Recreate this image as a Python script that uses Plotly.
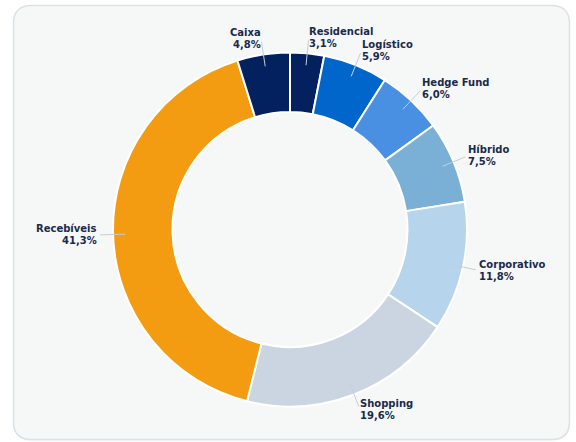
import math
import plotly.graph_objects as go

# ---- data ----
categories = ["Residencial", "Logístico", "Hedge Fund", "Híbrido",
              "Corporativo", "Shopping", "Recebíveis", "Caixa"]
values = [3.1, 5.9, 6.0, 7.5, 11.8, 19.6, 41.3, 4.8]
colors = ["#03215e", "#0066cc", "#4a90e2", "#7bb0d6",
          "#b6d4eb", "#cbd5e1", "#f39c12", "#03215e"]

W, H = 576, 442
CX, CY, R = 290.0, 229.5, 177.0
HOLE = 0.664
TEXT_COLOR = "#1a2a4c"
LINE_COLOR = "#c6cdd8"


def px(x):
    return x / W


def py(y):
    return 1 - y / H


fig = go.Figure()

fig.add_trace(go.Pie(
    labels=categories,
    values=values,
    sort=False,
    direction="clockwise",
    rotation=0,
    hole=HOLE,
    marker=dict(colors=colors, line=dict(color="#ffffff", width=2)),
    textinfo="none",
    hoverinfo="label+percent",
    showlegend=False,
    domain=dict(x=[px(CX - R), px(CX + R)], y=[py(CY + R), py(CY - R)]),
))


def rounded_path(x0, y0, x1, y1, r):
    X0, X1 = px(x0), px(x1)
    Y0, Y1 = py(y0), py(y1)
    rx, ry = r / W, r / H
    return (f"M {X0 + rx} {Y0} L {X1 - rx} {Y0} "
            f"Q {X1} {Y0} {X1} {Y0 - ry} "
            f"L {X1} {Y1 + ry} Q {X1} {Y1} {X1 - rx} {Y1} "
            f"L {X0 + rx} {Y1} Q {X0} {Y1} {X0} {Y1 + ry} "
            f"L {X0} {Y0 - ry} Q {X0} {Y0} {X0 + rx} {Y0} Z")


shapes = [
    dict(type="path", xref="paper", yref="paper", layer="below",
         path=rounded_path(13.5, 6.5, 569.5, 440.5, 18),
         fillcolor="#e9ecef", line=dict(color="rgba(0,0,0,0)", width=0)),
    dict(type="path", xref="paper", yref="paper", layer="below",
         path=rounded_path(13.5, 5.5, 569.5, 439.5, 18),
         fillcolor="#f6f8f8", line=dict(color="#dde1e6", width=1.5)),
]

annotations = []
total = sum(values)
cum = 0.0
for name, v in zip(categories, values):
    mid = (cum + v / 2) / total * 2 * math.pi
    cum += v
    s, c = math.sin(mid), math.cos(mid)
    x1, y1 = CX + 165 * s, CY - 165 * c
    x2, y2 = CX + 190 * s, CY - 190 * c
    shapes.append(dict(type="line", xref="paper", yref="paper",
                       x0=px(x1), y0=py(y1), x1=px(x2), y1=py(y2),
                       line=dict(color=LINE_COLOR, width=1)))
    lx, ly = CX + 193 * s, CY - 193 * c
    anchor = "left" if s >= 0 else "right"
    pct = f"{v:.1f}".replace(".", ",") + "%"
    for txt, dy in ((name, -6), (pct, 6)):
        annotations.append(dict(
            x=px(lx), y=py(ly + dy), xref="paper", yref="paper",
            text=f"<b>{txt}</b>", showarrow=False,
            xanchor=anchor, yanchor="middle", align=anchor,
            borderpad=0, borderwidth=0,
            font=dict(family="DejaVu Sans", size=10, color=TEXT_COLOR),
        ))

fig.update_layout(
    width=W, height=H,
    margin=dict(l=0, r=0, t=0, b=0),
    paper_bgcolor="#ffffff",
    plot_bgcolor="rgba(0,0,0,0)",
    shapes=shapes,
    annotations=annotations,
    font=dict(family="DejaVu Sans"),
)

fig.write_html(
    "out.html",
    config={"displayModeBar": False},
    post_script="document.body.style.margin='0';document.body.style.overflow='hidden';",
)
